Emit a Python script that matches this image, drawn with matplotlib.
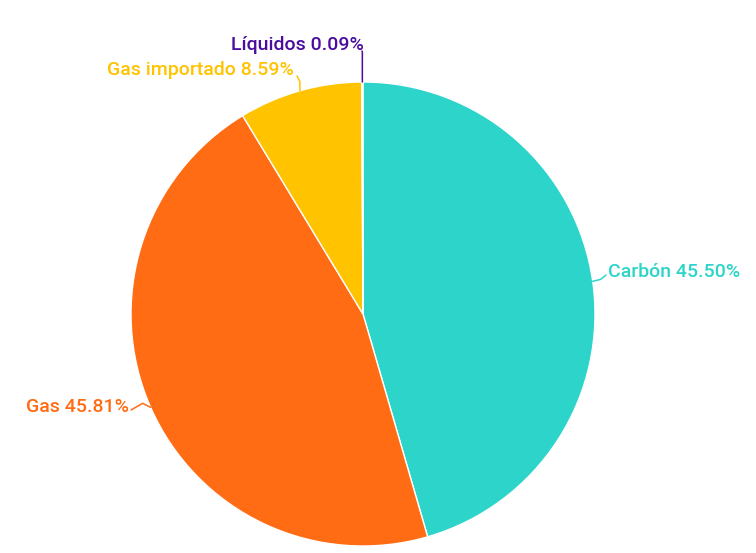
import numpy as np
import matplotlib
matplotlib.use("Agg")
import matplotlib.pyplot as plt

labels = ["Carbón", "Gas", "Gas importado", "Líquidos"]
values = [45.50, 45.81, 8.59, 0.09]
colors = ["#2DD4CA", "#FF6C14", "#FFC300", "#4A0D9E"]

W, H = 756, 553
fig = plt.figure(figsize=(W / 100, H / 100), dpi=100)
ax = fig.add_axes([0, 0, 1, 1])

cx, cy, R = 363, H - 314, 232
wedges, _ = ax.pie(values, colors=colors, startangle=90, counterclock=False,
                   center=(cx, cy), radius=R, frame=True,
                   wedgeprops=dict(edgecolor="white", linewidth=1))
ax.set_xlim(0, W)
ax.set_ylim(0, H)
ax.set_aspect("equal")
ax.axis("off")

layout = {
    "Carbón": (608, 272, "left"),
    "Gas": (129, 407, "right"),
    "Gas importado": (294, 70, "right"),
    "Líquidos": (364, 45, "right"),
}
font = dict(family=["Roboto", "DejaVu Sans"], fontsize=14, fontweight=500)

for w, lab, v, c in zip(wedges, labels, values, colors):
    ang = np.deg2rad((w.theta1 + w.theta2) / 2)
    ex, ey = cx + R * np.cos(ang), cy + R * np.sin(ang)
    tx, ty, ha = layout[lab]
    ty = H - ty
    if lab == "Carbón":
        pts = [(ex, ey), (ex + 8, ey + 2), (tx - 2, ty - 3)]
    elif lab == "Gas":
        pts = [(ex, ey), (ex - 8, ey + 4), (tx + 2, ty - 3)]
    elif lab == "Gas importado":
        pts = [(ex, ey), (ex, ey + 9), (tx + 3, ty - 6)]
    else:
        pts = [(ex, ey), (ex, ey + 30), (tx - 2, ty - 6)]
    xs, ys = zip(*pts)
    ax.plot(xs, ys, color=c, lw=1.1, solid_capstyle="round")
    ax.text(tx, ty, f"{lab} {v:.2f}%", color=c, ha=ha, va="center", **font)

fig.savefig("out.png", dpi=100)
